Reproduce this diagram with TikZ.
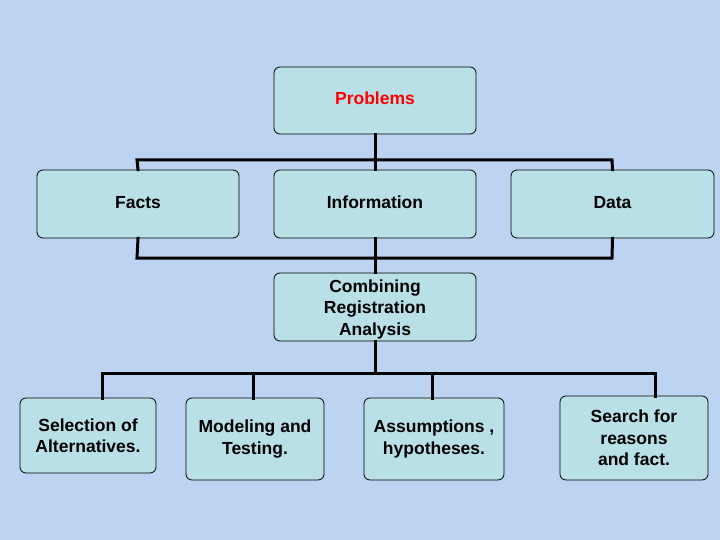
\documentclass[tikz,border=0pt]{standalone}
\usepackage{fontspec}
\setmainfont{Liberation Sans}
\begin{document}
\begin{tikzpicture}[x=1pt,y=-1pt,
 box/.style={draw=black,fill=boxc,rounded corners=6pt,line width=0.8pt,font=\bfseries\fontsize{17.5}{21.5}\selectfont,align=center},
 conn/.style={line width=3pt,line cap=rect}]
\definecolor{bg}{HTML}{BCD3F2}
\definecolor{boxc}{HTML}{B8E0E6}
\fill[bg] (0,0) rectangle (720,540);
\useasboundingbox (0,0) rectangle (720,540);
\newcommand{\bx}[6]{\node[box,minimum width=#4-#2,minimum height=#5-#3] (#1) at ({(#2+#4)/2},{(#3+#5)/2}) {#6};}
\bx{prob}{274}{67}{476}{134}{\textcolor{red}{Problems}\strut}
\bx{facts}{37}{170}{239}{238}{Facts\strut}
\bx{info}{274}{170}{476}{238}{Information\strut}
\bx{data}{511}{170}{714}{238}{Data\strut}
\node[box,minimum width=202,minimum height=68,inner sep=0pt] (comb) at (375,307) {};
\node[font=\bfseries\fontsize{17.5}{21.5}\selectfont,align=center] at (375,309) {Combining\\Registration\\Analysis};
\bx{sel}{20}{398}{156}{473}{Selection of\\Alternatives.}
\bx{mod}{186}{398}{324}{480}{Modeling and\\Testing.}
\bx{ass}{364}{398}{504}{480}{Assumptions ,\\hypotheses.}
\bx{sea}{560}{396}{708}{480}{Search for\\reasons\\and fact.}
\coordinate (h1) at (375,160);
\draw[conn] (prob.south) -- (h1);
\draw[conn] (facts.north) -- (137,160) -- (612,160) -- (data.north);
\draw[conn] (h1) -- (info.north);
\draw[conn] (facts.south) -- (137,258) -- (612,258) -- (data.south);
\draw[conn] (info.south) -- (comb.north);
\coordinate (h2) at (375,373);
\draw[conn] (comb.south) -- (h2);
\draw[conn] (102,398) -- (102,373) -- (655,373) -- (655,396);
\draw[conn] (253,373) -- (253,398);
\draw[conn] (432,373) -- (432,398);
\end{tikzpicture}
\end{document}
